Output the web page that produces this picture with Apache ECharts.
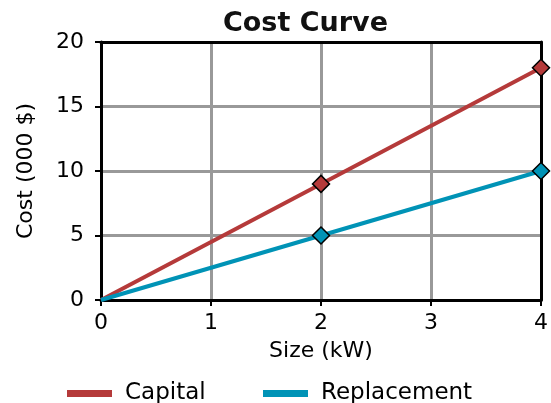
<!DOCTYPE html>
<html><head><meta charset="utf-8">
<script src="https://cdn.jsdelivr.net/npm/echarts@6/dist/echarts.min.js"></script>
<style>html,body{margin:0;padding:0;background:#fff}#c{width:551px;height:403px}</style>
</head><body><div id="c"></div>
<script>
const sizes = [0, 2, 4];
const capital = [0, 9, 18];
const replacement = [0, 5, 10];
const markerShown = [false, true, true];
const xTicks = [0, 1, 2, 3, 4];
const yTicks = [0, 5, 10, 15, 20];

const FONT = 'DejaVu Sans';
function pts(vals, color) {
  return sizes.map((x, i) => ({
    value: [x, vals[i]],
    symbol: markerShown[i] ? 'diamond' : 'none',
    symbolSize: 17,
    itemStyle: { color: color, borderColor: '#000', borderWidth: 1.5 }
  }));
}
const xMin = xTicks[0], xMax = xTicks[xTicks.length - 1];
const yMin = yTicks[0], yMax = yTicks[yTicks.length - 1];
const borderAxis = {
  axisLine: { show: true, onZero: false, lineStyle: { color: '#000', width: 3 } },
  axisTick: { show: false }, axisLabel: { show: false }, splitLine: { show: false }, z: 5
};
const chart = echarts.init(document.getElementById('c'), null, { renderer: 'canvas' });
chart.setOption({
  animation: false,
  backgroundColor: '#fff',
  title: {
    text: 'Cost Curve', left: 218, top: 5,
    textStyle: { fontFamily: FONT, fontWeight: 'bold', fontSize: 27, color: '#111' }
  },
  grid: { left: 101, right: 6, top: 42, bottom: 103 },
  legend: [
    { data: ['Capital'], left: 62, top: 377, itemWidth: 45, itemHeight: 7, icon: 'rect',
      textStyle: { fontFamily: FONT, fontSize: 23, color: '#000', padding: [0, 0, 0, 8] } },
    { data: ['Replacement'], left: 258, top: 377, itemWidth: 45, itemHeight: 7, icon: 'rect',
      textStyle: { fontFamily: FONT, fontSize: 23, color: '#000', padding: [0, 0, 0, 8] } }
  ],
  xAxis: [{
    type: 'value', min: xMin, max: xMax, interval: 1,
    name: 'Size (kW)', nameLocation: 'middle', nameGap: 40,
    nameTextStyle: { fontFamily: FONT, fontSize: 22, color: '#000' },
    axisLine: { onZero: false, lineStyle: { color: '#000', width: 3 } },
    axisTick: { show: true, length: 6, lineStyle: { color: '#000', width: 2 } },
    axisLabel: { fontFamily: FONT, fontSize: 22, color: '#000', margin: 12 },
    splitLine: { show: true, lineStyle: { color: '#999', width: 3 } },
    z: 5
  }, Object.assign({ type: 'value', position: 'top', min: xMin, max: xMax, interval: 1 }, borderAxis)],
  yAxis: [{
    type: 'value', min: yMin, max: yMax, interval: 5,
    name: 'Cost (000 $)', nameLocation: 'middle', nameGap: 64, nameRotate: 90,
    nameTextStyle: { fontFamily: FONT, fontSize: 22, color: '#000' },
    axisLine: { onZero: false, lineStyle: { color: '#000', width: 3 } },
    axisTick: { show: true, length: 6, lineStyle: { color: '#000', width: 2 } },
    axisLabel: { fontFamily: FONT, fontSize: 22, color: '#000', margin: 17 },
    splitLine: { show: true, lineStyle: { color: '#999', width: 3 } },
    z: 5
  }, Object.assign({ type: 'value', position: 'right', min: yMin, max: yMax, interval: 5 }, borderAxis)],
  series: [
    { name: 'Capital', type: 'line', data: pts(capital, '#B53A3A'), z: 6,
      lineStyle: { color: '#B53A3A', width: 4 }, itemStyle: { color: '#B53A3A' } },
    { name: 'Replacement', type: 'line', data: pts(replacement, '#0093B6'), z: 6,
      lineStyle: { color: '#0093B6', width: 4 }, itemStyle: { color: '#0093B6' } }
  ]
});
</script></body></html>
